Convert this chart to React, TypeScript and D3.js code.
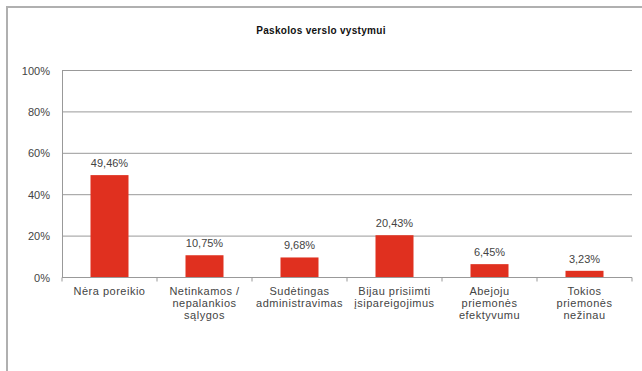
import React, { useRef, useEffect } from 'react';
import * as d3 from 'd3';

// Duomenys
const categories: string[][] = [
  ['Nėra poreikio'],
  ['Netinkamos /', 'nepalankios', 'sąlygos'],
  ['Sudėtingas', 'administravimas'],
  ['Bijau prisiimti', 'įsipareigojimus'],
  ['Abejoju', 'priemonės', 'efektyvumu'],
  ['Tokios', 'priemonės', 'nežinau'],
];
const values = [49.46, 10.75, 9.68, 20.43, 6.45, 3.23];
const yTicks = [0, 20, 40, 60, 80, 100];
const title = 'Paskolos verslo vystymui';

const Chart: React.FC = () => {
  const ref = useRef<SVGSVGElement>(null);

  useEffect(() => {
    if (!ref.current) return;
    const svg = d3.select(ref.current);
    svg.selectAll('*').remove();

    const left = 62, right = 632, top = 70.5, bottom = 277.5;
    const font = 'Arial, "Liberation Sans", sans-serif';

    // outer frame (runs off the right/bottom edge)
    svg.append('rect')
      .attr('x', 7).attr('y', 7).attr('width', 660).attr('height', 400)
      .attr('fill', 'white').attr('stroke', '#b0b0b0').attr('stroke-width', 2);

    svg.append('text')
      .attr('x', 321).attr('y', 34)
      .attr('text-anchor', 'middle')
      .attr('font-family', font).attr('font-size', 10).attr('font-weight', 'bold')
      .attr('letter-spacing', 0.3)
      .attr('fill', '#111')
      .text(title);

    const idx = categories.map((_, i) => String(i));
    const x = d3.scaleBand().domain(idx).range([left, right]).paddingInner(0.6).paddingOuter(0.3);
    const band = d3.scaleBand().domain(idx).range([left, right]);
    const y = d3.scaleLinear().domain([0, 100]).range([bottom, top]);

    // gridlines
    svg.append('g').selectAll('line').data(yTicks.filter(t => t > 0)).join('line')
      .attr('x1', left).attr('x2', right)
      .attr('y1', d => y(d)).attr('y2', d => y(d))
      .attr('stroke', '#999').attr('stroke-width', 1);

    // y axis labels
    svg.append('g').selectAll('text').data(yTicks).join('text')
      .attr('x', 50).attr('y', d => y(d) + 4)
      .attr('text-anchor', 'end')
      .attr('font-family', font).attr('font-size', 11).attr('fill', '#444')
      .text(d => `${d}%`);

    // bars
    svg.append('g').selectAll('rect').data(values).join('rect')
      .attr('x', (_, i) => x(String(i))!)
      .attr('y', d => y(d))
      .attr('width', x.bandwidth())
      .attr('height', d => bottom - y(d))
      .attr('fill', '#e0301f');

    // value labels
    svg.append('g').selectAll('text').data(values).join('text')
      .attr('x', (_, i) => x(String(i))! + x.bandwidth() / 2)
      .attr('y', d => y(d) - 8)
      .attr('text-anchor', 'middle')
      .attr('font-family', font).attr('font-size', 11).attr('fill', '#444')
      .text(d => d.toFixed(2).replace('.', ',') + '%');

    // axes lines
    svg.append('line')
      .attr('x1', left + 0.5).attr('x2', left + 0.5).attr('y1', top).attr('y2', bottom)
      .attr('stroke', '#999');
    svg.append('line')
      .attr('x1', left).attr('x2', right).attr('y1', bottom).attr('y2', bottom)
      .attr('stroke', '#999');

    // category ticks
    const tickPos = idx.map(i => band(i)!).concat([right]);
    svg.append('g').selectAll('line').data(tickPos).join('line')
      .attr('x1', d => d).attr('x2', d => d)
      .attr('y1', bottom).attr('y2', bottom + 4)
      .attr('stroke', '#999');

    // category labels
    const lab = svg.append('g').selectAll('text').data(categories).join('text')
      .attr('text-anchor', 'middle')
      .attr('font-family', font).attr('font-size', 11).attr('fill', '#444')
      .attr('letter-spacing', 0.5);
    lab.each(function (lines, i) {
      const t = d3.select(this);
      lines.forEach((l, j) => {
        t.append('tspan')
          .attr('x', band(String(i))! + band.bandwidth() / 2)
          .attr('y', 295 + j * 12)
          .text(l);
      });
    });
  }, []);

  return (
    <svg ref={ref} width={642} height={371}
      style={{ position: 'absolute', left: 0, top: 0, display: 'block' }} />
  );
};

export default function App() {
  return <Chart />;
}
